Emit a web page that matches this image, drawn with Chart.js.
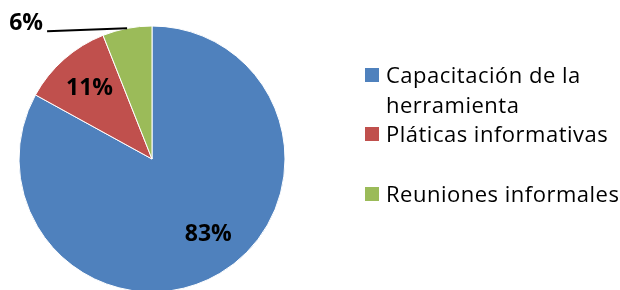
<!DOCTYPE html>
<html>
<head>
<meta charset="utf-8">
<script src="https://cdn.jsdelivr.net/npm/chart.js@4"></script>
<style>
  html, body { margin: 0; padding: 0; background: #ffffff; }
  #wrap { width: 620px; height: 290px; position: relative; }
</style>
</head>
<body>
<div id="wrap"><canvas id="chart"></canvas></div>
<script>
// datos
const categorias = ['Capacitación de la herramienta', 'Pláticas informativas', 'Reuniones informales'];
const lineasLeyenda = [['Capacitación de la', 'herramienta'], ['Pláticas informativas'], ['Reuniones informales']];
const porcentajes = [83, 11, 6];
const colores = ['#4F81BD', '#C0504D', '#9BBB59'];

const fuente = '"Open Sans", "Liberation Sans", sans-serif';

// etiquetas de porcentaje sobre cada sector
const etiquetasPlugin = {
    id: 'etiquetas',
    afterDatasetsDraw(chart) {
        const ctx = chart.ctx;
        const arcs = chart.getDatasetMeta(0).data;
        ctx.save();
        ctx.fillStyle = '#000000';
        ctx.font = 'bold 23px ' + fuente;
        ctx.textBaseline = 'middle';
        arcs.forEach((arc, i) => {
            let mid = (arc.startAngle + arc.endAngle) / 2;
            const r = arc.outerRadius;
            const texto = porcentajes[i] + '%';
            if (porcentajes[i] < 8) {
                // sector pequeño: etiqueta fuera con línea guía
                const px = arc.x + Math.cos(mid) * r;
                const py = arc.y + Math.sin(mid) * r;
                const ex = px - 80, ey = py + 3;
                ctx.strokeStyle = '#000000';
                ctx.lineWidth = 2;
                ctx.beginPath();
                ctx.moveTo(px, py);
                ctx.lineTo(ex, ey);
                ctx.stroke();
                ctx.textAlign = 'right';
                ctx.fillText(texto, ex - 4, ey - 8);
            } else {
                // el sector grande: Excel lo acerca un poco al borde derecho
                if (porcentajes[i] > 50) mid -= 0.105;
                ctx.textAlign = 'center';
                ctx.fillText(texto, arc.x + Math.cos(mid) * r * 0.71, arc.y + Math.sin(mid) * r * 0.71);
            }
        });
        ctx.restore();
    }
};

// leyenda a la derecha, con salto de línea como en el original
const leyendaPlugin = {
    id: 'leyenda',
    afterDraw(chart) {
        const ctx = chart.ctx;
        const baseY = [83, 142, 202];
        ctx.save();
        ctx.font = '22px ' + fuente;
        ctx.letterSpacing = '0.5px';
        ctx.textBaseline = 'alphabetic';
        ctx.textAlign = 'left';
        lineasLeyenda.forEach((lineas, i) => {
            ctx.fillStyle = colores[i];
            ctx.fillRect(365, baseY[i] - 15, 14, 14);
            ctx.fillStyle = '#000000';
            lineas.forEach((t, j) => ctx.fillText(t, 386, baseY[i] + j * 30));
        });
        ctx.restore();
    }
};

new Chart(document.getElementById('chart'), {
    type: 'pie',
    data: {
        labels: categorias,
        datasets: [{
            data: porcentajes,
            backgroundColor: colores,
            borderColor: '#ffffff',
            borderWidth: 1,
            radius: 133
        }]
    },
    options: {
        responsive: true,
        maintainAspectRatio: false,
        animation: false,
        layout: { padding: { left: 0, right: 316, top: 28, bottom: 0 } },
        plugins: {
            legend: { display: false },
            tooltip: { enabled: false }
        }
    },
    plugins: [etiquetasPlugin, leyendaPlugin]
});
</script>
</body>
</html>
